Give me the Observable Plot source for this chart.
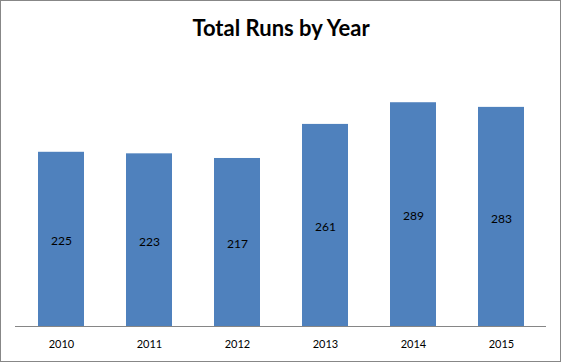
<!DOCTYPE html>
<html>
<head>
<meta charset="utf-8">
<script src="https://cdn.jsdelivr.net/npm/d3@7"></script>
<script src="https://cdn.jsdelivr.net/npm/@observablehq/plot@0.6"></script>
<style>
  html, body { margin: 0; padding: 0; background: #fff; }
  #wrap { position: relative; width: 561px; height: 362px; }
  #border { position: absolute; left: 0; top: 0; width: 561px; height: 362px; box-sizing: border-box; border: 1px solid #878787; pointer-events: none; }
  #chart svg { display: block; }
</style>
</head>
<body>
<div id="wrap">
  <div id="chart"></div>
  <div id="border"></div>
</div>
<script>
const title = "Total Runs by Year";
const years = ["2010", "2011", "2012", "2013", "2014", "2015"];
const runs = [225, 223, 217, 261, 289, 283];

const data = years.map((year, i) => ({year, runs: runs[i]}));

const chart = Plot.plot({
  width: 561,
  height: 362,
  marginLeft: 15,
  marginRight: 15,
  marginTop: 55,
  marginBottom: 36,
  style: {fontFamily: "Lato, 'Open Sans', sans-serif", fontSize: "11px", color: "#000", background: "#fff"},
  x: {domain: years, paddingInner: 0.48, paddingOuter: 0.24, label: null, tickSize: 0, tickPadding: 14},
  y: {domain: [0, 350], axis: null},
  marks: [
    Plot.barY(data, {x: "year", y: "runs", fill: "#4F81BD"}),
    Plot.ruleY([0], {stroke: "#868686", strokeWidth: 1}),
    Plot.text(data, {x: "year", y: d => d.runs / 2, text: d => String(d.runs), fill: "#000", fontSize: 12, dy: 2}),
    Plot.text([title], {frameAnchor: "top", dy: -27, text: d => d, fontSize: 22, fontWeight: "bold", fill: "#000", lineAnchor: "middle"})
  ]
});
document.getElementById("chart").appendChild(chart);
</script>
</body>
</html>
